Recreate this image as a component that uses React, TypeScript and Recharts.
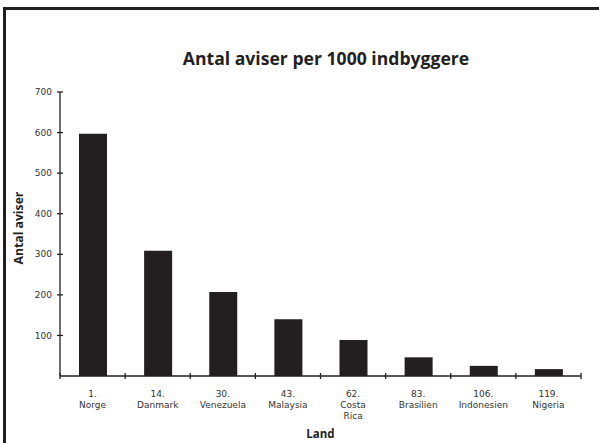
import { BarChart, Bar, XAxis, YAxis } from 'recharts';

const ranks = ['1.', '14.', '30.', '43.', '62.', '83.', '106.', '119.'];
const countries = ['Norge', 'Danmark', 'Venezuela', 'Malaysia', 'Costa Rica', 'Brasilien', 'Indonesien', 'Nigeria'];
const aviser = [597, 309, 207, 140, 89, 46, 25, 17];
const yTicks = [100, 200, 300, 400, 500, 600, 700];

const data = countries.map((c, i) => ({ land: `${ranks[i]} ${c}`, aviser: aviser[i] }));

const INK = '#231f20';
const TICK_FONT = '"DejaVu Sans", Verdana, sans-serif';
const BOLD_FONT = '"Open Sans", Lato, sans-serif';

function XTick(props: any) {
  const { x, y, payload, index, visibleTicksCount } = props;
  const half = payload.offset || 32.5;
  const lines: string[] = String(payload.value).split(' ');
  const last = index === (visibleTicksCount ?? countries.length) - 1;
  return (
    <g>
      <line x1={x - half} x2={x - half} y1={y - 3} y2={y + 3} stroke={INK} strokeWidth={1.3} />
      {last && <line x1={x + half} x2={x + half} y1={y - 3} y2={y + 3} stroke={INK} strokeWidth={1.3} />}
      <text x={x} y={y + 21} textAnchor="middle" fontFamily={TICK_FONT} fontSize={9} fill="#333">
        {lines.map((l, i) => (
          <tspan key={i} x={x} dy={i === 0 ? 0 : 11}>{l}</tspan>
        ))}
      </text>
    </g>
  );
}

function YTick(props: any) {
  const { x, y, payload } = props;
  return (
    <g>
      <line x1={x - 3} x2={x + 3} y1={y} y2={y} stroke={INK} strokeWidth={1.3} />
      <text x={x - 8} y={y + 3.2} textAnchor="end" fontFamily={TICK_FONT} fontSize={9} fill="#333">
        {payload.value}
      </text>
    </g>
  );
}

function YLabel(props: any) {
  const { viewBox } = props;
  const cx = viewBox.x + 18;
  const cy = viewBox.y + viewBox.height / 2 - 6;
  return (
    <text x={cx} y={cy} transform={`rotate(-90, ${cx}, ${cy})`} textAnchor="middle" dominantBaseline="central"
      fontFamily={BOLD_FONT} fontWeight="bold" fontSize={12.2} fill={INK}>
      Antal aviser
    </text>
  );
}

export default function App() {
  return (
    <div style={{ position: 'absolute', left: 0, top: 0, width: 599, height: 443, overflow: 'hidden', background: '#fff' }}>
      <div style={{ position: 'absolute', left: 3, top: 7, width: 700, height: 500, border: `3px solid ${INK}` }} />
      <div style={{
        position: 'absolute', left: 0, top: 48, width: 652, textAlign: 'center',
        fontFamily: BOLD_FONT, fontWeight: 'bold', fontSize: 17.6, lineHeight: '20px', color: INK,
      }}>
        Antal aviser per 1000 indbyggere
      </div>
      <div style={{ position: 'absolute', left: 0, top: 0 }}>
        <BarChart width={599} height={443} data={data} margin={{ top: 92, right: 18, bottom: 0, left: 0 }} barSize={28}>
          <XAxis dataKey="land" height={67} interval={0} tickLine={false} tickSize={0} tickMargin={0}
            axisLine={{ stroke: INK, strokeWidth: 1.3 }} tick={<XTick />}
            label={{ value: 'Land', position: 'insideBottom', offset: 5, fontFamily: BOLD_FONT, fontWeight: 'bold', fontSize: 11.5, fill: INK }} />
          <YAxis width={60} domain={[0, 700]} ticks={yTicks} interval={0} tickLine={false} tickSize={0} tickMargin={0}
            axisLine={{ stroke: INK, strokeWidth: 1.3 }} tick={<YTick />} label={<YLabel />} />
          <Bar dataKey="aviser" fill={INK} isAnimationActive={false} />
        </BarChart>
      </div>
    </div>
  );
}
